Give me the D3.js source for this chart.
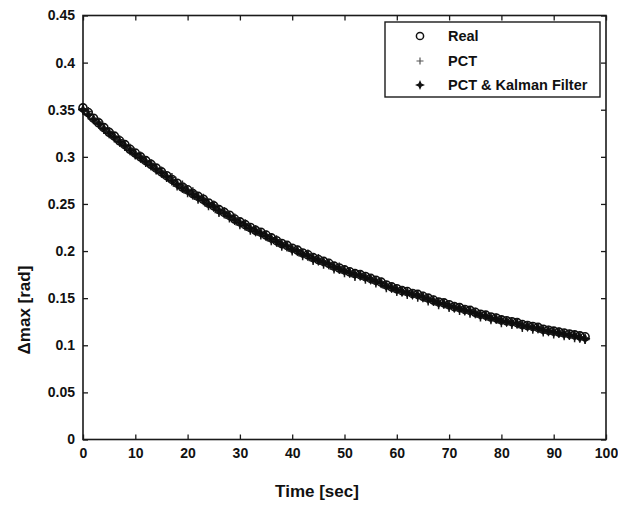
<!DOCTYPE html>
<html><head><meta charset="utf-8">
<script src="https://cdn.jsdelivr.net/npm/d3@7"></script>
<style>
html,body{margin:0;padding:0;background:#fff;}
svg{display:block;}
text{font-family:"Liberation Sans Narrow","Liberation Sans",Arial,sans-serif;fill:#111;}
</style></head>
<body>
<svg id="chart" width="618" height="506"></svg>
<script>
const xTicks = [0,10,20,30,40,50,60,70,80,90,100];
const yTicks = [0,0.05,0.1,0.15,0.2,0.25,0.3,0.35,0.4,0.45];
const yTickLabels = ["0","0.05","0.1","0.15","0.2","0.25","0.3","0.35","0.4","0.45"];
const seriesNames = ["Real","PCT","PCT & Kalman Filter"];

const time = [0,1,2,3,4,5,6,7,8,9,10,11,12,13,14,15,16,17,18,19,20,21,22,23,24,25,26,27,28,29,30,31,32,33,34,35,36,37,38,39,40,41,42,43,44,45,46,47,48,49,50,51,52,53,54,55,56,57,58,59,60,61,62,63,64,65,66,67,68,69,70,71,72,73,74,75,76,77,78,79,80,81,82,83,84,85,86,87,88,89,90,91,92,93,94,95,96];

const real = [0.352,0.347,0.341,0.336,0.331,0.326,0.322,0.317,0.313,0.308,0.304,0.300,0.296,0.292,0.288,0.284,0.280,0.276,0.272,0.268,0.265,0.261,0.258,0.255,0.251,0.248,0.244,0.241,0.238,0.234,0.231,0.228,0.225,0.222,0.220,0.217,0.214,0.211,0.208,0.206,0.203,0.201,0.198,0.196,0.193,0.191,0.189,0.187,0.184,0.182,0.180,0.178,0.176,0.175,0.173,0.171,0.169,0.167,0.164,0.162,0.160,0.158,0.157,0.155,0.154,0.152,0.150,0.148,0.146,0.145,0.143,0.141,0.140,0.138,0.137,0.135,0.133,0.132,0.130,0.129,0.127,0.126,0.125,0.124,0.122,0.121,0.120,0.119,0.117,0.116,0.115,0.114,0.113,0.112,0.111,0.110,0.109];

const pct = [0.351,0.348,0.340,0.337,0.329,0.327,0.320,0.318,0.311,0.309,0.302,0.301,0.294,0.293,0.286,0.285,0.278,0.278,0.269,0.270,0.262,0.263,0.255,0.256,0.248,0.249,0.241,0.242,0.235,0.235,0.228,0.229,0.222,0.223,0.217,0.217,0.211,0.212,0.205,0.206,0.200,0.201,0.195,0.197,0.190,0.192,0.186,0.187,0.181,0.183,0.177,0.178,0.173,0.175,0.170,0.171,0.166,0.167,0.161,0.162,0.157,0.158,0.154,0.155,0.151,0.152,0.147,0.148,0.143,0.145,0.140,0.141,0.137,0.138,0.134,0.135,0.130,0.132,0.127,0.129,0.124,0.126,0.122,0.124,0.119,0.121,0.117,0.119,0.114,0.116,0.112,0.114,0.110,0.111,0.108,0.109,0.106];

const kalman = [0.350,0.345,0.340,0.335,0.330,0.325,0.321,0.316,0.312,0.307,0.303,0.299,0.295,0.291,0.287,0.283,0.279,0.275,0.271,0.267,0.264,0.260,0.257,0.254,0.250,0.247,0.243,0.240,0.237,0.233,0.230,0.227,0.224,0.221,0.219,0.216,0.213,0.210,0.207,0.205,0.202,0.200,0.197,0.195,0.192,0.190,0.188,0.186,0.183,0.181,0.179,0.177,0.175,0.174,0.172,0.170,0.168,0.166,0.163,0.161,0.159,0.157,0.156,0.154,0.153,0.151,0.149,0.147,0.145,0.144,0.142,0.140,0.139,0.137,0.136,0.134,0.132,0.131,0.129,0.128,0.126,0.125,0.124,0.123,0.121,0.120,0.119,0.118,0.116,0.115,0.114,0.113,0.112,0.111,0.110,0.108,0.107];

const svg = d3.select("#chart");
const L = 83, R = 606, T = 15.5, B = 439.5;
const x = d3.scaleLinear().domain([0,100]).range([L,R]);
const y = d3.scaleLinear().domain([0,0.45]).range([B,T]);
const axisColor = "#1a1a1a";

const defs = svg.append("defs");
defs.append("filter").attr("id","soft").append("feGaussianBlur").attr("stdDeviation",0.55);

// frame
svg.append("rect").attr("x",L).attr("y",T).attr("width",R-L).attr("height",B-T)
  .attr("fill","none").attr("stroke",axisColor).attr("stroke-width",1.6);

// axes (inward ticks)
const xb = svg.append("g").attr("transform",`translate(0,${B})`)
  .call(d3.axisBottom(x).tickValues(xTicks).tickSize(-5).tickPadding(9).tickFormat(d3.format("d")));
const xt = svg.append("g").attr("transform",`translate(0,${T})`)
  .call(d3.axisTop(x).tickValues(xTicks).tickSize(-5).tickFormat(""));
const yl = svg.append("g").attr("transform",`translate(${L},0)`)
  .call(d3.axisLeft(y).tickValues(yTicks).tickSize(-5).tickPadding(8).tickFormat((d,i)=>yTickLabels[i]));
const yr = svg.append("g").attr("transform",`translate(${R},0)`)
  .call(d3.axisRight(y).tickValues(yTicks).tickSize(-5).tickFormat(""));
[xb,xt,yl,yr].forEach(g=>{
  g.select(".domain").remove();
  g.selectAll(".tick line").attr("stroke",axisColor).attr("stroke-width",1.3);
  g.selectAll("text").attr("font-size",14).attr("fill","#111").attr("font-weight","bold");
});

// marker paths
const plusPath = "M-4.5,0H4.5M0,-4.5V4.5";
const starPath = "M0,-5L1.5,-1.5L5,0L1.5,1.5L0,5L-1.5,1.5L-5,0L-1.5,-1.5Z";

const g = svg.append("g").attr("filter","url(#soft)");
g.selectAll("circle.real").data(time).join("circle").attr("class","real")
  .attr("cx",(d)=>x(d)).attr("cy",(d,i)=>y(real[i])).attr("r",4)
  .attr("fill","none").attr("stroke","#111").attr("stroke-width",1.6);
g.selectAll("path.pct").data(time).join("path").attr("class","pct")
  .attr("transform",(d,i)=>`translate(${x(d)},${y(pct[i])})`).attr("d",plusPath)
  .attr("stroke","#222").attr("stroke-width",1.5).attr("fill","none");
g.selectAll("path.kal").data(time).join("path").attr("class","kal")
  .attr("transform",(d,i)=>`translate(${x(d)},${y(kalman[i])})`).attr("d",starPath)
  .attr("fill","#111").attr("stroke","#111").attr("stroke-width",0.8);

// legend
const lg = svg.append("g");
lg.append("rect").attr("x",385).attr("y",22).attr("width",215).attr("height",75)
  .attr("fill","#fff").attr("stroke",axisColor).attr("stroke-width",1.4);
const rows = [36,61,85];
const mx = 420, tx = 448;
lg.append("circle").attr("cx",mx).attr("cy",rows[0]).attr("r",3.6).attr("fill","none").attr("stroke","#111").attr("stroke-width",1.5);
lg.append("path").attr("transform",`translate(${mx},${rows[1]})`).attr("d","M-3.5,0H3.5M0,-3.5V3.5").attr("stroke","#555").attr("stroke-width",1.2);
lg.append("path").attr("transform",`translate(${mx},${rows[2]})`).attr("d",starPath).attr("fill","#111");
seriesNames.forEach((n,i)=>{
  lg.append("text").attr("x",tx).attr("y",rows[i]).attr("dy","0.35em")
    .attr("font-size",14.5).attr("font-weight","bold").text(n);
});

// axis titles
svg.append("text").attr("x",317).attr("y",497).attr("text-anchor","middle")
  .attr("font-size",17).attr("font-weight","bold").text("Time [sec]");
svg.append("text").attr("transform",`translate(30,${310}) rotate(-90)`).attr("text-anchor","middle")
  .attr("font-size",17).attr("font-weight","bold").text("Δmax [rad]");
</script>
</body></html>
